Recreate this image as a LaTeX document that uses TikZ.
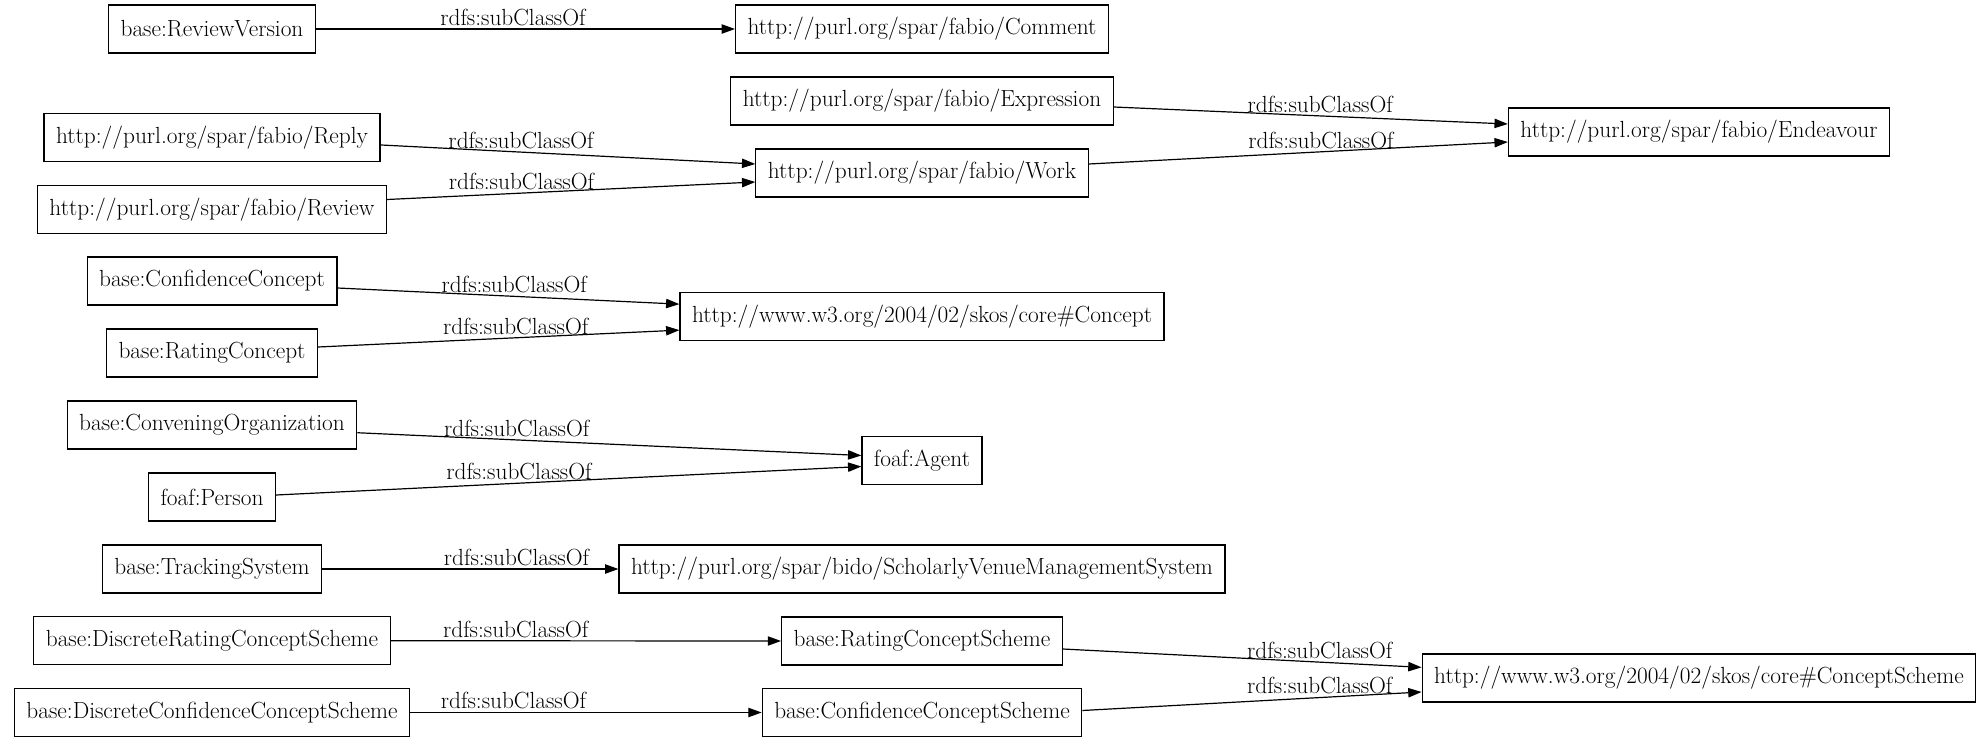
\documentclass[tikz,border=0pt]{standalone}
\usepackage{tikz}
\usetikzlibrary{arrows.meta}

\begin{document}
\begin{tikzpicture}[
  x=0.75pt, y=-0.75pt,
  font=\fontsize{17.5}{20}\selectfont,
  >={Triangle[length=10pt, width=7pt]},
  cls/.style={draw, line width=0.9pt, minimum height=36pt, inner xsep=9pt, inner ysep=0pt},
  sub/.style={->, line width=0.9pt},
  lbl/.style={above=1pt, inner sep=1pt},
]
\useasboundingbox (0,0) rectangle (1980,743);
\def\xL{212}\def\xM{922}\def\xR{1699}

% ---- left column -----------------------------------------------------------
\node[cls] (rv)     at (\xL,29)    {base:ReviewVersion};
\node[cls] (reply)  at (\xL,137.5) {http://purl.org/spar/fabio/Reply};
\node[cls] (review) at (\xL,209.5) {http://purl.org/spar/fabio/Review};
\node[cls] (confc)  at (\xL,281)   {base:ConfidenceConcept};
\node[cls] (ratc)   at (\xL,353)   {base:RatingConcept};
\node[cls] (conv)   at (\xL,425)   {base:ConveningOrganization};
\node[cls] (person) at (\xL,497)   {foaf:Person};
\node[cls] (track)  at (\xL,569)   {base:TrackingSystem};
\node[cls] (drcs)   at (\xL,640.7) {base:DiscreteRatingConceptScheme};
\node[cls] (dccs)   at (\xL,712.5) {base:DiscreteConfidenceConceptScheme};

% ---- middle column ---------------------------------------------------------
\node[cls] (comment) at (\xM,29)    {http://purl.org/spar/fabio/Comment};
\node[cls] (expr)    at (\xM,101)   {http://purl.org/spar/fabio/Expression};
\node[cls] (work)    at (\xM,173)   {http://purl.org/spar/fabio/Work};
\node[cls] (concept) at (\xM,316.8) {http://www.w3.org/2004/02/skos/core\#Concept};
\node[cls] (agent)   at (\xM,460.5) {foaf:Agent};
\node[cls] (svms)    at (\xM,569)   {http://purl.org/spar/bido/ScholarlyVenueManagementSystem};
\node[cls] (rcs)     at (\xM,641)   {base:RatingConceptScheme};
\node[cls] (ccs)     at (\xM,712.5) {base:ConfidenceConceptScheme};

% ---- right column ----------------------------------------------------------
\node[cls] (endeav)  at (\xR,132) {http://purl.org/spar/fabio/Endeavour};
\node[cls] (cscheme) at (\xR,678) {http://www.w3.org/2004/02/skos/core\#ConceptScheme};

% ---- subclass edges --------------------------------------------------------
% source/shift/target/shift/label pos
\foreach \a/\sa/\b/\sb/\p in {rv/0/comment/0/0.47, reply/-5.6/work/6.75/0.375,
    review/7.5/work/-6.75/0.365, confc/-5.25/concept/9.5/0.517,
    ratc/4.5/concept/-10/0.547, conv/-5.8/agent/3.75/0.316,
    person/1.5/agent/-4.5/0.415, track/0/svms/0/0.656,
    drcs/0/rcs/0/0.32, dccs/0/ccs/0/0.294,
    expr/-4.5/endeav/6/0.524, work/6.75/endeav/-7.5/0.554,
    rcs/-6/cscheme/8/0.716, ccs/1.5/cscheme/-10.5/0.70}{
  \draw[sub] ([yshift=\sa pt]\a.east) -- node[lbl, pos=\p] {rdfs:subClassOf} ([yshift=\sb pt]\b.west);
}
\end{tikzpicture}
\end{document}
